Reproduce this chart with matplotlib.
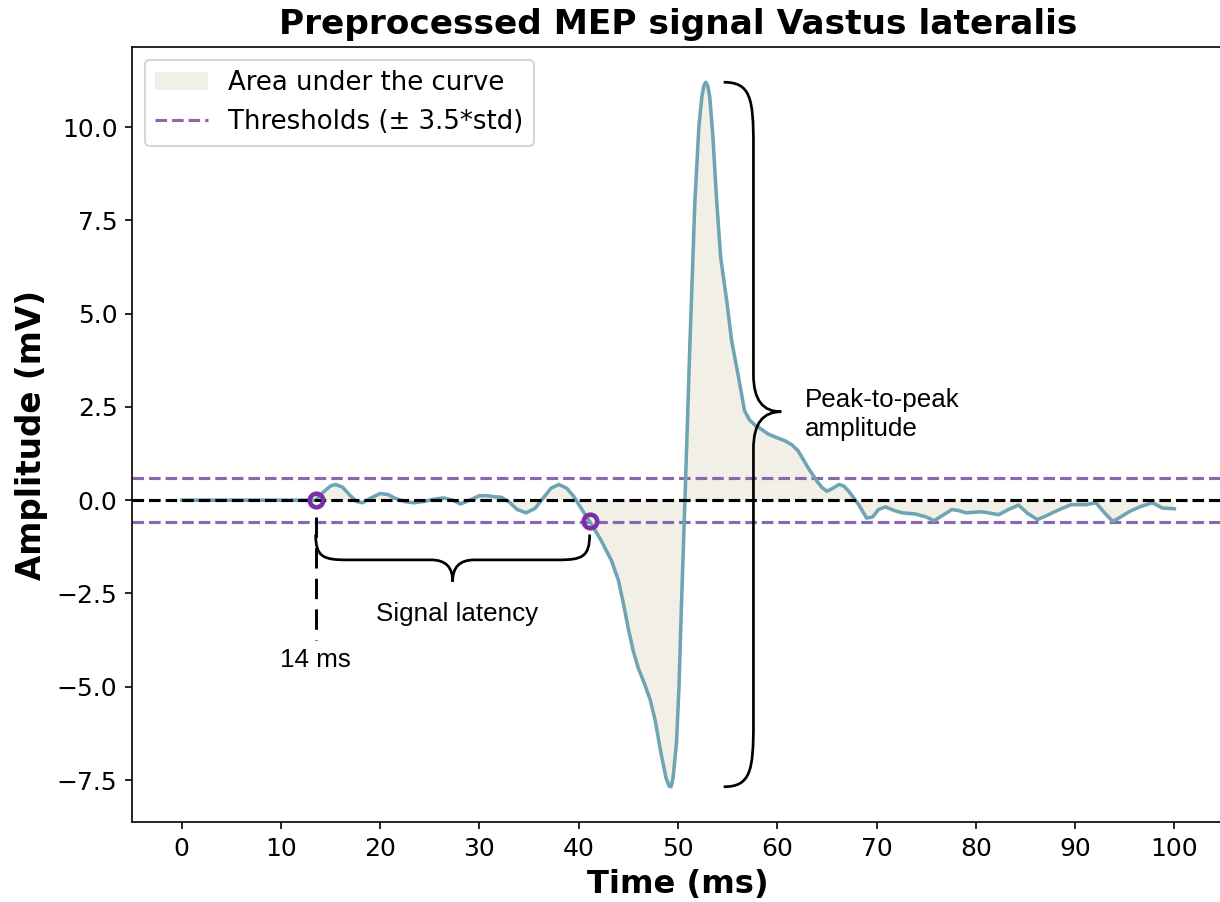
import numpy as np
import matplotlib
matplotlib.use("Agg")
import matplotlib.pyplot as plt
from matplotlib.path import Path
from matplotlib.patches import PathPatch

# ---------------- data ----------------
time_ms = [0.0, 13.5, 14.2, 15.0, 15.5, 16.2, 17.0, 17.6, 18.2, 19.0, 20.0, 20.8,
           21.5, 22.5, 23.4, 24.5, 25.5, 26.4, 27.3, 28.1, 29.0, 30.0, 30.8, 31.5,
           32.2, 33.0, 33.8, 34.7, 35.6, 36.4, 37.2, 38.0, 38.8, 39.5, 40.2, 41.1,
           42.2, 43.3, 44.0, 44.5, 45.0, 45.5, 46.0, 46.6, 47.2, 47.7, 48.3, 48.8,
           49.1, 49.3, 49.5, 49.85, 50.1, 50.35, 50.7, 51.2, 51.7, 52.1, 52.4, 52.6,
           52.8, 53.0, 53.2, 53.5, 53.9, 54.3, 54.9, 55.4, 56.1, 56.7, 57.2, 57.8,
           58.4, 59.1, 60.0, 60.8, 61.5, 62.1, 62.6, 63.1, 64.0, 64.5, 65.0, 65.6,
           66.2, 66.7, 67.2, 68.2, 69.0, 69.6, 70.2, 70.9, 71.8, 72.6, 73.9, 75.0,
           75.8, 76.7, 77.6, 78.3, 79.0, 80.6, 81.5, 82.3, 83.3, 84.3, 85.2, 86.2,
           87.0, 87.7, 88.7, 89.6, 91.1, 92.1, 93.0, 93.8, 94.6, 95.5, 96.6, 97.8,
           98.8, 100.0]
amplitude_mv = [0.0, 0.0, 0.2, 0.38, 0.42, 0.35, 0.12, -0.03, -0.07, 0.05, 0.18, 0.15,
                0.05, -0.04, -0.07, -0.03, 0.03, 0.06, 0.0, -0.10, 0.0, 0.12, 0.12, 0.09,
                0.08, -0.05, -0.25, -0.34, -0.22, 0.05, 0.32, 0.42, 0.32, 0.10, -0.20, -0.57,
                -1.05, -1.62, -2.15, -2.77, -3.45, -4.05, -4.50, -4.90, -5.35, -5.90, -6.80, -7.45,
                -7.66, -7.68, -7.45, -6.50, -5.00, -2.80, 0.0, 4.20, 8.00, 10.00, 10.80, 11.10,
                11.20, 11.10, 10.80, 9.80, 8.00, 6.50, 5.36, 4.28, 3.29, 2.40, 2.15, 2.00,
                1.90, 1.77, 1.67, 1.59, 1.48, 1.32, 1.10, 0.87, 0.51, 0.34, 0.24, 0.32,
                0.42, 0.38, 0.24, -0.12, -0.48, -0.45, -0.25, -0.18, -0.28, -0.34, -0.37, -0.45,
                -0.55, -0.40, -0.25, -0.28, -0.34, -0.31, -0.35, -0.39, -0.25, -0.13, -0.35, -0.52,
                -0.43, -0.34, -0.22, -0.12, -0.12, -0.07, -0.35, -0.57, -0.45, -0.30, -0.17, -0.07,
                -0.21, -0.23]
threshold_mv = 0.59          # 3.5 * std
onset_ms = 13.5              # start of the response (labelled "14 ms")
crossing_ms = 41.1           # signal crosses the lower threshold
x_ticks = [0, 10, 20, 30, 40, 50, 60, 70, 80, 90, 100]
y_ticks = [-7.5, -5.0, -2.5, 0.0, 2.5, 5.0, 7.5, 10.0]

t = np.array(time_ms)
a = np.array(amplitude_mv)

# ---------------- styling ----------------
curve_color = "#6ea4b4"
fill_color = "#f2efe6"
thr_color = "#8b67ad"
marker_color = "#7a2fa8"
annot_font = ["Liberation Sans", "DejaVu Sans"]

fig = plt.figure(figsize=(1220 / 150, 902 / 150), dpi=150)
ax = fig.add_axes([132 / 1220, 80 / 902, 1092 / 1220, 775 / 902])

ax.fill_between(t, a, 0, color=fill_color, lw=0, zorder=1,
                label="Area under the curve")
ax.plot(t, a, color=curve_color, lw=1.7, zorder=3, solid_joinstyle="round")
ax.axhline(0, color="black", ls="--", lw=1.5, zorder=4)
ax.axhline(threshold_mv, color=thr_color, ls="--", lw=1.5, zorder=2,
           label="Thresholds (\u00b1 3.5*std)")
ax.axhline(-threshold_mv, color=thr_color, ls="--", lw=1.5, zorder=2)

onset_amp = float(np.interp(onset_ms, t, a))
cross_amp = float(np.interp(crossing_ms, t, a))
ax.plot([onset_ms, crossing_ms], [onset_amp, cross_amp], ls="none", marker="o",
        markersize=6.5, markerfacecolor="none", markeredgecolor=marker_color,
        markeredgewidth=2.2, zorder=6)

ax.autoscale_view()
ax.set_autoscale_on(False)

ax.set_xticks(x_ticks)
ax.set_yticks(y_ticks)
ax.tick_params(labelsize=12)
ax.set_xlabel("Time (ms)", fontsize=15.5, fontweight="bold")
ax.set_ylabel("Amplitude (mV)", fontsize=15.7, fontweight="bold")
ax.set_title("Preprocessed MEP signal Vastus lateralis", fontsize=16.5,
             fontweight="bold")

ax.legend(loc="upper left", fontsize=12.5)


# ---------------- annotations ----------------
def brace(u0, u1, um, v_end, v_flat, v_tip, r, r2, vertical=False):
    s = np.sign(u1 - u0)
    r, r2 = r * s, r2 * s
    pts = [
        (u0, v_end),
        (u0, v_end + 0.9 * (v_flat - v_end)), (u0 + 0.25 * r, v_flat), (u0 + r, v_flat),
        (um - r2, v_flat),
        (um - 0.3 * r2, v_flat), (um, v_flat + 0.35 * (v_tip - v_flat)), (um, v_tip),
        (um, v_flat + 0.35 * (v_tip - v_flat)), (um + 0.3 * r2, v_flat), (um + r2, v_flat),
        (u1 - r, v_flat),
        (u1 - 0.25 * r, v_flat), (u1, v_end + 0.9 * (v_flat - v_end)), (u1, v_end),
    ]
    codes = [Path.MOVETO] + [Path.CURVE4] * 3 + [Path.LINETO] + [Path.CURVE4] * 6 \
        + [Path.LINETO] + [Path.CURVE4] * 3
    if vertical:
        pts = [(v, u) for u, v in pts]
    ax.add_patch(PathPatch(Path(pts, codes), facecolor="none", edgecolor="black",
                           lw=1.3, zorder=5, clip_on=False))


# signal latency brace
brace(onset_ms, crossing_ms, (onset_ms + crossing_ms) / 2, -0.92, -1.6, -2.18,
      3.2, 2.2)
ax.text((onset_ms + crossing_ms) / 2 + 0.4, -3.05, "Signal latency", ha="center",
        va="center", fontsize=12.5, family=annot_font)

# onset marker line and label
ax.plot([onset_ms, onset_ms], [-0.45, -3.75], color="black", lw=1.4,
        dashes=(7, 3.5), zorder=5)
ax.text(onset_ms, -4.27, f"{round(onset_ms + 0.5):d} ms", ha="center",
        va="center", fontsize=12.5, family=annot_font)

# peak-to-peak brace
brace(a.max(), a.min(), 2.37, 54.6, 57.6, 60.4, 1.7, 1.0, vertical=True)
ax.text(62.8, 2.3, "Peak-to-peak\namplitude", ha="left", va="center",
        fontsize=12.5, family=annot_font, linespacing=1.25)

fig.savefig("out.png", dpi=150)
